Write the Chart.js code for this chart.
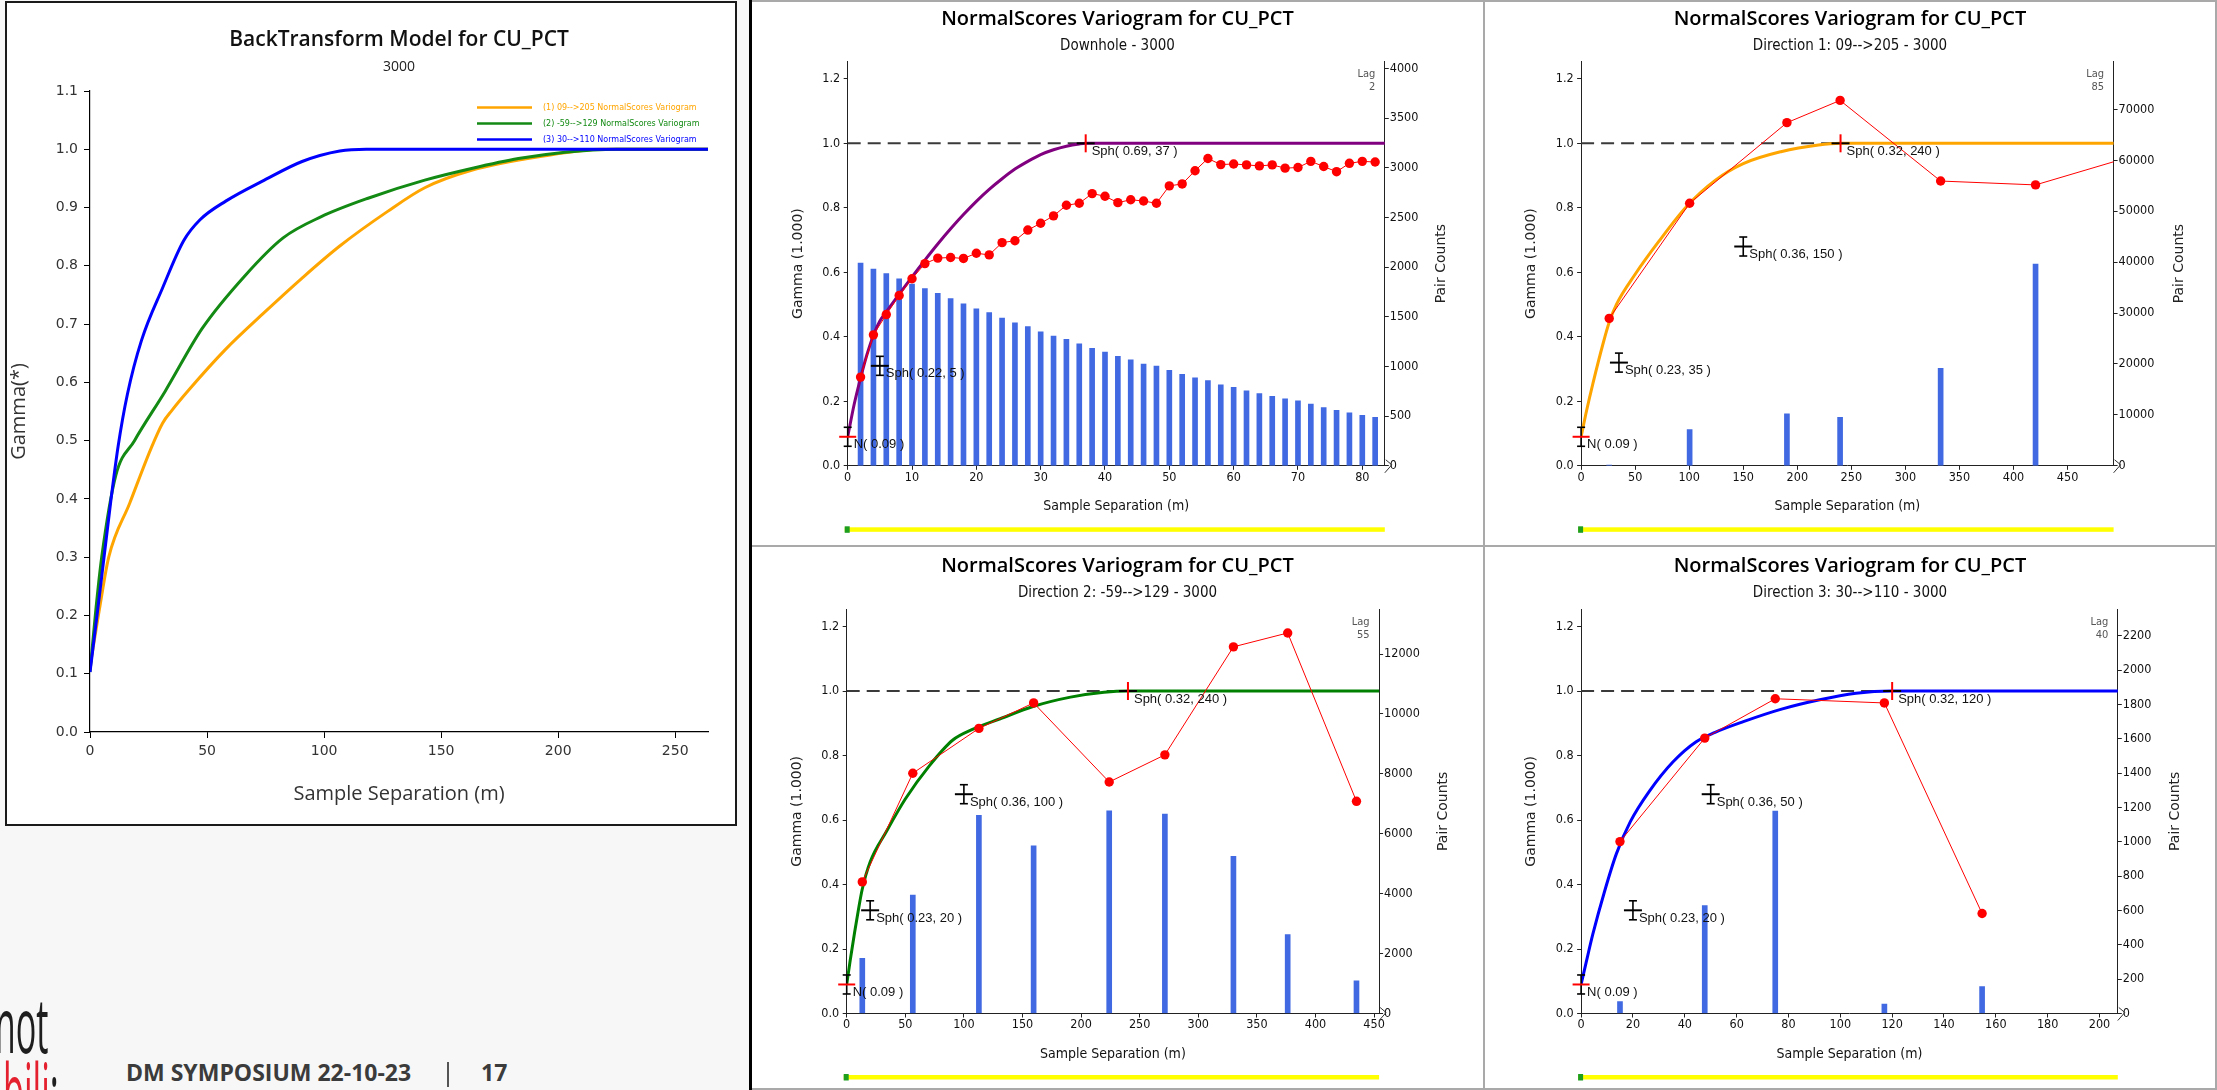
<!DOCTYPE html>
<html lang="en">
<head>
<meta charset="utf-8">
<title>NormalScores variograms for CU_PCT</title>
<script src="https://cdn.jsdelivr.net/npm/chart.js@4.4.1/dist/chart.umd.min.js"></script>
<style>
  html, body { margin: 0; padding: 0; }
  body { position: relative; width: 2217px; height: 1090px; overflow: hidden; background: #f7f7f7; }
  canvas, .abs { position: absolute; }
  #btFrame { left: 5px; top: 1px; width: 728px; height: 821px; border: 2px solid #1a1a1a; background: #fff; }
  #grid { left: 749px; top: 0; width: 1468px; height: 1090px; background: #fff; }
  .rule { position: absolute; background: #a9a9a9; }
  .foot { font-family: "Open Sans", sans-serif; font-weight: 700; font-size: 23px; line-height: 1; color: #3b3b3b; white-space: nowrap; }
  .logo { font-family: "Open Sans", sans-serif; font-weight: 400; font-size: 76px; line-height: 1; white-space: nowrap; }
</style>
</head>
<body>
<div id="btFrame" class="abs"></div>
<div id="grid" class="abs"></div>
<div class="abs" style="left:749px;top:0;width:3px;height:1090px;background:#000"></div>
<div class="rule" style="left:752px;top:0;width:1465px;height:2px"></div>
<div class="rule" style="left:1483px;top:0;width:2px;height:1090px"></div>
<div class="rule" style="left:752px;top:545px;width:1465px;height:2px"></div>
<div class="rule" style="left:2215px;top:0;width:2px;height:1090px"></div>
<div class="rule" style="left:752px;top:1088px;width:1465px;height:2px"></div>

<canvas id="bt" width="728" height="821" style="left:7px;top:3px"></canvas>
<canvas id="pA"></canvas>
<canvas id="pB"></canvas>
<canvas id="pC"></canvas>
<canvas id="pD"></canvas>

<div class="abs logo" style="right:2169px;top:986px;color:#1e1e1e;transform:scaleX(0.45);transform-origin:right top">not</div>
<div class="abs logo" style="left:3px;top:1052px;transform:scaleX(0.45);transform-origin:left top"><span style="color:#e4202e">bili</span><span style="color:#1e1e1e">:</span></div>
<div class="abs foot" style="left:126px;top:1061px">DM SYMPOSIUM 22-10-23</div>
<div class="abs" style="left:447px;top:1062px;width:1.5px;height:25px;background:#555"></div>
<div class="abs foot" style="left:481px;top:1061px">17</div>

<script>
// back-transformed models (gamma vs separation)
const btX1 = [0, 4, 8, 17, 26, 31, 35, 42, 58, 74.5, 90.6, 106.7, 127, 143, 163, 193, 219, 264];
const btY1 = [0.112, 0.21, 0.30, 0.393, 0.486, 0.53, 0.552, 0.586, 0.657, 0.72, 0.779, 0.834, 0.893, 0.934, 0.964, 0.988, 1.0, 1.0];
const btX2 = [0, 2.5, 5, 11, 19, 32, 48, 66.4, 82.5, 98.6, 118.8, 143, 163, 183, 203, 225, 264];
const btY2 = [0.103, 0.21, 0.30, 0.44, 0.50, 0.584, 0.693, 0.784, 0.848, 0.884, 0.916, 0.947, 0.967, 0.984, 0.995, 1.0, 1.0];
const btX3 = [0, 3, 6, 9, 12, 16, 22, 31, 40, 47, 58, 74.5, 90.6, 106.7, 118, 264];
const btY3 = [0.103, 0.2, 0.3, 0.4, 0.49, 0.58, 0.672, 0.762, 0.843, 0.879, 0.911, 0.947, 0.979, 0.997, 1.0, 1.0];
const btLabels = ['(1) 09-->205 NormalScores Variogram', '(2) -59-->129 NormalScores Variogram', '(3) 30-->110 NormalScores Variogram'];

// Downhole
const lagsA = [2, 4, 6, 8, 10, 12, 14, 16, 18, 20, 22, 24, 26, 28, 30, 32, 34, 36, 38, 40, 42,
  44, 46, 48, 50, 52, 54, 56, 58, 60, 62, 64, 66, 68, 70, 72, 74, 76, 78, 80, 82];
const gammaA = [0.275, 0.406, 0.469, 0.528, 0.580, 0.627, 0.644, 0.646, 0.643, 0.659, 0.654, 0.692, 0.698, 0.731,
  0.752, 0.775, 0.808, 0.814, 0.844, 0.836, 0.816, 0.825, 0.821, 0.814, 0.868, 0.874, 0.915, 0.953, 0.934, 0.936,
  0.933, 0.930, 0.933, 0.923, 0.925, 0.944, 0.928, 0.912, 0.938, 0.944, 0.942];
const pairsA = [2040, 1980, 1934, 1881, 1829, 1783, 1737, 1684, 1631, 1581, 1543, 1486, 1440, 1401, 1348, 1306,
  1274, 1228, 1183, 1144, 1101, 1066, 1024, 1003, 960, 921, 886, 858, 815, 791, 755, 727, 699, 674, 653, 621,
  586, 558, 533, 508, 487];
const modelXA = [0, 1, 2, 3, 4, 5, 6, 8, 10, 12, 14, 16, 18, 20, 22, 24, 26, 28, 30, 32, 34, 36, 37, 85];
const modelYA = [0.09, 0.19, 0.272, 0.345, 0.405, 0.449, 0.477, 0.532, 0.586, 0.638, 0.688, 0.735, 0.779, 0.82,
  0.857, 0.89, 0.92, 0.944, 0.965, 0.98, 0.991, 0.998, 1.0, 1.0];
const pairTicksA = [0, 500, 1000, 1500, 2000, 2500, 3000, 3500, 4000];

// Direction 1: 09-->205
const lagsB = [26, 100.4, 190.4, 239.6, 332.6, 420.4, 510];
const gammaB = [0.457, 0.814, 1.064, 1.133, 0.883, 0.871, 0.96];
const pairsB = [150, 7100, 10200, 9500, 19150, 39600, null];
const modelXB = [0, 5, 10.9, 20.4, 26, 32.6, 50, 71.7, 97.8, 124, 150, 184.8, 219.6, 240, 500];
const modelYB = [0.09, 0.17, 0.255, 0.38, 0.445, 0.50, 0.594, 0.695, 0.805, 0.885, 0.937, 0.974, 0.995, 1.0, 1.0];
const pairTicksB = [0, 10000, 20000, 30000, 40000, 50000, 60000, 70000];

// Direction 2: -59-->129
const lagsC = [13.3, 56.4, 112.8, 159.5, 224, 271.5, 330, 376.3, 435];
const gammaC = [0.408, 0.745, 0.884, 0.963, 0.718, 0.802, 1.137, 1.18, 0.658];
const pairsC = [1838, 3957, 6614, 5596, 6767, 6661, 5245, 2634, 1089];
const modelXC = [0, 3, 6.8, 10, 13.3, 20, 34, 50, 70.5, 90.6, 106.8, 131, 159, 191, 219.6, 240, 460];
const modelYC = [0.09, 0.165, 0.253, 0.322, 0.386, 0.47, 0.565, 0.665, 0.768, 0.848, 0.88, 0.914, 0.952, 0.981, 0.996, 1.0, 1.0];
const pairTicksC = [0, 2000, 4000, 6000, 8000, 10000, 12000];

// Direction 3: 30-->110
const lagsD = [15, 47.7, 74.9, 117, 154.7];
const gammaD = [0.533, 0.854, 0.976, 0.963, 0.31];
const pairsD = [69, 629, 1179, 55, 157];
const modelXD = [0, 2, 4.5, 9.1, 13.6, 19, 26.3, 35.4, 44.4, 51.7, 62.6, 77, 91.6, 106, 120, 210];
const modelYD = [0.09, 0.16, 0.245, 0.38, 0.495, 0.595, 0.689, 0.78, 0.843, 0.872, 0.905, 0.943, 0.972, 0.993, 1.0, 1.0];
const pairTicksD = [0, 200, 400, 600, 800, 1000, 1200, 1400, 1600, 1800, 2000, 2200];

const OPEN = '"Open Sans", sans-serif';
const DEJAVU = '"DejaVu Sans", sans-serif';
const NARROW = '"DejaVu Sans Condensed", "Liberation Sans Narrow", "DejaVu Sans", sans-serif';
const LIB = '"Liberation Sans", Arial, sans-serif';

const pts = (xs, ys) => xs.map((x, i) => ({ x, y: ys[i] }));

function seg(ctx, x1, y1, x2, y2, color, w) {
  ctx.strokeStyle = color;
  ctx.lineWidth = w;
  ctx.beginPath();
  ctx.moveTo(x1, y1);
  ctx.lineTo(x2, y2);
  ctx.stroke();
}

// vertical bar with small serifs, used for the structure markers
function iBeam(ctx, px, py) {
  seg(ctx, px, py - 9.5, px, py + 9.5, '#000', 1.6);
  seg(ctx, px - 4, py - 9.5, px + 4, py - 9.5, '#000', 1.6);
  seg(ctx, px - 4, py + 9.5, px + 4, py + 9.5, '#000', 1.6);
}

// nugget / structure markers, lag note, pair-count title and the range slider strip
const varioDecor = {
  id: 'vario',
  afterDatasetsDraw(chart, args, o) {
    const { ctx, chartArea: a, scales: { x, y } } = chart;
    ctx.save();
    ctx.font = '13px ' + LIB;
    ctx.textAlign = 'left';
    ctx.textBaseline = 'middle';
    const tag = (t, px, py) => { ctx.fillStyle = '#111'; ctx.fillText(t, px + 6, py + 8); };

    let sill = o.nugget;
    let px = x.getPixelForValue(0), py = y.getPixelForValue(sill);
    iBeam(ctx, px, py);
    seg(ctx, px - 8.5, py, px + 8.5, py, '#ff0000', 2);
    tag('N( ' + o.nugget.toFixed(2) + ' )', px, py);
    o.structures.forEach(([c, r], i) => {
      sill += c;
      px = x.getPixelForValue(r);
      py = y.getPixelForValue(sill);
      seg(ctx, px - 9, py, px + 9, py, '#000', 2);
      if (i === o.structures.length - 1) seg(ctx, px, py - 9, px, py + 9, '#ff0000', 2);
      else iBeam(ctx, px, py);
      tag('Sph( ' + c.toFixed(2) + ', ' + r + ' )', px, py);
    });

    ctx.fillStyle = '#555';
    ctx.font = '11px ' + NARROW;
    ctx.textAlign = 'right';
    ctx.fillText('Lag', a.right - 9.5, a.top + 13);
    ctx.fillText(String(o.lag), a.right - 9.5, a.top + 26);

    ctx.save();
    ctx.translate(a.right + o.pcOff, (a.top + a.bottom) / 2);
    ctx.rotate(-Math.PI / 2);
    ctx.textAlign = 'center';
    ctx.fillStyle = '#222';
    ctx.font = '14px ' + DEJAVU;
    ctx.fillText('Pair Counts', 0, 0);
    ctx.restore();

    ctx.strokeStyle = '#333';
    ctx.lineWidth = 1;
    ctx.beginPath();
    ctx.moveTo(a.right + 1, a.bottom - 6);
    ctx.lineTo(a.right + 7, a.bottom - 1);
    ctx.lineTo(a.right, a.bottom + 7);
    ctx.stroke();

    ctx.fillStyle = '#ffff00';
    ctx.fillRect(a.left - 3, a.bottom + 61.5, a.right - a.left + 3, 4.5);
    ctx.fillStyle = '#1e9e1e';
    ctx.fillRect(a.left - 3, a.bottom + 60.5, 5, 6.5);
    ctx.restore();
  }
};

function variogram(p) {
  const cv = document.getElementById(p.id);
  const b = p.box, a = p.area;
  cv.width = b.w;
  cv.height = b.h;
  cv.style.left = b.x + 'px';
  cv.style.top = b.y + 'px';
  const sill = p.nugget + p.structures.reduce((s, st) => s + st[0], 0);
  const range = p.structures[p.structures.length - 1][1];
  const tickFont = { family: NARROW, size: 12.5 };
  const axisLine = { display: true, color: '#222', width: 1 };
  const outerTicks = { drawOnChartArea: false, drawTicks: true, tickLength: 4, color: '#222', offset: false };

  new Chart(cv, {
    type: 'scatter',
    data: {
      datasets: [
        { type: 'line', showLine: true, data: pts(p.lags, p.gamma), borderColor: '#ff0000', borderWidth: 1,
          pointRadius: 4.7, pointBackgroundColor: '#ff0000', pointBorderWidth: 0, order: 1 },
        { type: 'line', showLine: true, data: pts(p.modelX, p.modelY), borderColor: p.color, borderWidth: 3,
          pointRadius: 0, cubicInterpolationMode: 'monotone', order: 2 },
        { type: 'line', showLine: true, data: [{ x: 0, y: sill }, { x: range, y: sill }], borderColor: '#3a3a3a',
          borderWidth: 2, borderDash: [13, 7], pointRadius: 0, order: 3 },
        { type: 'bar', data: pts(p.lags, p.pairs), yAxisID: 'y2', backgroundColor: '#4169e1',
          barThickness: 5, order: 4 }
      ]
    },
    options: {
      responsive: false,
      animation: false,
      events: [],
      layout: { padding: 0 },
      plugins: {
        legend: { display: false },
        tooltip: { enabled: false },
        title: {
          display: true, text: 'NormalScores Variogram for CU_PCT', color: '#000',
          font: { family: OPEN, size: 20, weight: '600' },
          padding: { top: p.titleY - b.y - 12, bottom: p.subY - p.titleY - 21 }
        },
        subtitle: {
          display: true, text: p.sub, color: '#111',
          font: { family: NARROW, size: 15 },
          padding: { top: 0, bottom: a.t - p.subY - 9 }
        },
        vario: { nugget: p.nugget, structures: p.structures, lag: p.lag, pcOff: p.pcOff }
      },
      scales: {
        x: {
          type: 'linear', position: 'bottom', min: 0, max: p.xMax, offset: false,
          border: axisLine, grid: outerTicks,
          ticks: { stepSize: p.xStep, includeBounds: false, padding: 0, color: '#111', font: tickFont, maxRotation: 0 },
          title: {
            display: true, text: 'Sample Separation (m)', color: '#111', font: { family: NARROW, size: 14 },
            padding: { top: 0, bottom: (b.y + b.h) - (a.b + 41) - 8.4 }
          },
          afterFit: s => { s.height = b.y + b.h - a.b; }
        },
        y: {
          type: 'linear', position: 'left', min: 0, max: 1.254,
          border: axisLine, grid: outerTicks,
          ticks: { stepSize: 0.2, includeBounds: false, padding: 3.5, color: '#111', font: tickFont,
            callback: v => v.toFixed(1) },
          title: {
            display: true, text: 'Gamma (1.000)', color: '#222', font: { family: DEJAVU, size: 14 },
            padding: { top: (a.l - 49.5) - b.x - 8.4, bottom: 0 }
          },
          afterFit: s => { s.width = a.l - b.x; }
        },
        y2: {
          type: 'linear', position: 'right', min: 0, max: p.pMax,
          border: axisLine, grid: outerTicks,
          ticks: { padding: 1, color: '#111', font: tickFont, callback: v => String(v) },
          afterBuildTicks: s => { s.ticks = p.pairTicks.map(value => ({ value })); },
          afterFit: s => { s.width = b.x + b.w - a.r; }
        }
      }
    },
    plugins: [varioDecor]
  });
}

const panels = [
  { id: 'pA', sub: 'Downhole - 3000', lag: 2, color: '#800080', nugget: 0.09, structures: [[0.22, 5], [0.69, 37]],
    lags: lagsA, gamma: gammaA, pairs: pairsA, modelX: modelXA, modelY: modelYA, pairTicks: pairTicksA,
    xMax: 83.5, xStep: 10, pMax: 4070,
    box: { x: 752, y: 2, w: 731, h: 543 }, area: { l: 847.7, r: 1384.8, t: 61.4, b: 465.8 },
    titleY: 19, subY: 46, pcOff: 57 },
  { id: 'pB', sub: 'Direction 1: 09-->205 - 3000', lag: 85, color: '#ffa500', nugget: 0.09,
    structures: [[0.23, 35], [0.36, 150], [0.32, 240]],
    lags: lagsB, gamma: gammaB, pairs: pairsB, modelX: modelXB, modelY: modelYB, pairTicks: pairTicksB,
    xMax: 492.6, xStep: 50, pMax: 79430,
    box: { x: 1485, y: 2, w: 730, h: 543 }, area: { l: 1581.1, r: 2113.6, t: 61.4, b: 465.8 },
    titleY: 19, subY: 46, pcOff: 65.5 },
  { id: 'pC', sub: 'Direction 2: -59-->129 - 3000', lag: 55, color: '#008000', nugget: 0.09,
    structures: [[0.23, 20], [0.36, 100], [0.32, 240]],
    lags: lagsC, gamma: gammaC, pairs: pairsC, modelX: modelXC, modelY: modelYC, pairTicks: pairTicksC,
    xMax: 454.3, xStep: 50, pMax: 13500,
    box: { x: 752, y: 547, w: 731, h: 541 }, area: { l: 846.7, r: 1379.1, t: 609.1, b: 1013.5 },
    titleY: 566.3, subY: 593.3, pcOff: 63.8 },
  { id: 'pD', sub: 'Direction 3: 30-->110 - 3000', lag: 40, color: '#0000ff', nugget: 0.09,
    structures: [[0.23, 20], [0.36, 50], [0.32, 120]],
    lags: lagsD, gamma: gammaD, pairs: pairsD, modelX: modelXD, modelY: modelYD, pairTicks: pairTicksD,
    xMax: 207.05, xStep: 20, pMax: 2355,
    box: { x: 1485, y: 547, w: 730, h: 541 }, area: { l: 1581.1, r: 2117.8, t: 609.1, b: 1013.5 },
    titleY: 566.3, subY: 593.3, pcOff: 57.8 }
];
panels.forEach(variogram);

// legend drawn inside the plot, top right, text in the series colour
const btLegend = {
  id: 'btLegend',
  afterDatasetsDraw(chart) {
    const { ctx, chartArea: a } = chart;
    ctx.save();
    ctx.font = '8px ' + DEJAVU;
    ctx.textAlign = 'left';
    ctx.textBaseline = 'middle';
    chart.data.datasets.forEach((ds, i) => {
      const yy = a.top + 16.5 + i * 16;
      seg(ctx, a.right - 231, yy, a.right - 176, yy, ds.borderColor, 2.5);
      ctx.fillStyle = ds.borderColor;
      ctx.fillText(ds.label, a.right - 165, yy);
    });
    ctx.restore();
  }
};

const btSeries = [[btX1, btY1, '#ffa500', 3], [btX2, btY2, '#138a13', 2], [btX3, btY3, '#0000ff', 1]];
new Chart(document.getElementById('bt'), {
  type: 'scatter',
  data: {
    datasets: btSeries.map(([xs, ys, c, ord], i) => ({
      type: 'line', showLine: true, label: btLabels[i], data: pts(xs, ys), borderColor: c, borderWidth: 3,
      pointRadius: 0, cubicInterpolationMode: 'monotone', order: ord
    }))
  },
  options: {
    responsive: false,
    animation: false,
    events: [],
    layout: { padding: { right: 27 } },
    plugins: {
      legend: { display: false },
      tooltip: { enabled: false },
      title: {
        display: true, fullSize: false, text: 'BackTransform Model for CU_PCT', color: '#111',
        font: { family: OPEN, size: 21, weight: '600' }, padding: { top: 24, bottom: 6 }
      },
      subtitle: {
        display: true, fullSize: false, text: '3000', color: '#222',
        font: { family: OPEN, size: 14 }, padding: { top: 0, bottom: 16 }
      }
    },
    scales: {
      x: {
        type: 'linear', min: 0, max: 264,
        border: { display: true, color: '#000', width: 1.2 },
        grid: { drawOnChartArea: false, drawTicks: true, tickLength: 6, color: '#000' },
        ticks: { stepSize: 50, includeBounds: false, padding: 4.6, color: '#333', font: { family: DEJAVU, size: 14 }, maxRotation: 0 },
        title: { display: true, text: 'Sample Separation (m)', color: '#333', font: { family: OPEN, size: 20 },
          padding: { top: 0, bottom: 18 } },
        afterFit: s => { s.height = 92; }
      },
      y: {
        type: 'linear', min: 0, max: 1.1,
        border: { display: true, color: '#000', width: 1.2 },
        grid: { drawOnChartArea: false, drawTicks: true, tickLength: 6, color: '#000' },
        ticks: { stepSize: 0.1, includeBounds: false, padding: 6, color: '#333', font: { family: DEJAVU, size: 14 },
          callback: v => v.toFixed(1) },
        title: { display: true, text: 'Gamma(*)', color: '#333', font: { family: OPEN, size: 20 },
          padding: { top: 0, bottom: 0 } },
        afterFit: s => { s.width = 83; }
      }
    }
  },
  plugins: [btLegend]
});
</script>
</body>
</html>
